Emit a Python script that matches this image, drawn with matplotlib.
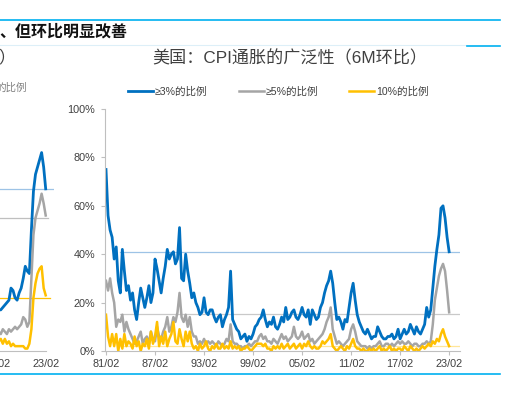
import numpy as np
import pandas as pd
import matplotlib
matplotlib.use("Agg")
import matplotlib.pyplot as plt
from matplotlib.lines import Line2D

plt.rcParams['font.family'] = ['Liberation Sans', 'Noto Sans CJK SC', 'DejaVu Sans']

# ---- main chart data: quarterly (Feb/May/Aug/Nov), 1981/02 - 2023/02 ----
dates = pd.date_range("1981-02-01", "2023-02-01", freq="3MS")

ge3 = [75, 56, 50, 47,  38, 43, 29, 24,  42, 33, 25, 27,  21, 24, 17, 13,   # 81-84
       20, 26, 22, 18,  22, 27, 20, 24,  38, 34, 29, 24,  30, 35, 42, 38,   # 85-88
       40, 41, 36, 38,  51, 30, 29, 40,  33, 28, 22, 24,  20, 18, 15, 16,   # 89-92
       22, 16, 15, 17,  17, 14, 12, 14,  15, 10, 13, 15,  18, 33, 13, 11,   # 93-96
       9, 8, 5, 6,      7, 4, 6, 5,      7, 10, 11, 13,   14, 17, 13, 10,   # 97-00
       12, 11, 14, 10,  9, 11, 14, 12,   18, 13, 14, 16,  17, 14, 13, 15,   # 01-04
       18, 15, 14, 17,  11, 17, 15, 13,  14, 18, 20, 24,  27, 29, 33, 28,   # 05-08
       20, 13, 14, 12,  9, 13, 12, 18,   24, 28, 21, 15,  12, 10, 8, 7,     # 09-12
       9, 7, 5, 6,      6, 10, 8, 6,     5, 5, 6, 6,      7, 5, 6, 9,       # 13-16
       5, 7, 9, 7,      8, 11, 9, 7,     10, 8, 7, 9,     11, 18, 14, 17,   # 17-20
       26, 35, 42, 48,  59, 60, 55, 47,  41]                                # 21-23

ge5 = [29, 25, 30, 24,  20, 10, 13, 12,  15, 8, 12, 9,    7, 5, 3, 4,
       6, 8, 3, 5,      6, 3, 8, 5,      4, 10, 6, 5,     8, 10, 14, 8,
       10, 14, 12, 16,  24, 14, 12, 15,  10, 14, 8, 6,    6, 3, 4, 3,
       5, 3, 4, 3,      4, 3, 2, 4,      3, 2, 3, 5,      4, 11, 4, 3,
       3, 2, 2, 1,      2, 2, 3, 2,      3, 4, 4, 6,      7, 5, 6, 4,
       4, 3, 5, 4,      3, 5, 7, 5,      6, 4, 5, 6,      10, 6, 5, 6,
       8, 5, 6, 7,      4, 5, 3, 4,      5, 6, 7, 9,      12, 14, 18, 9,
       6, 3, 4, 3,      2, 3, 4, 5,      9, 11, 8, 4,     3, 2, 2, 2,
       1, 2, 1, 2,      2, 3, 4, 2,      2, 3, 3, 2,      3, 2, 3, 4,
       3, 4, 3, 3,      4, 3, 2, 3,      3, 2, 2, 3,      3, 4, 3, 4,
       11, 21, 26, 31,  34, 36, 33, 25,  16]

ge10 = [15, 6, 2, 7,    2, 7, 0, 5,      1, 7, 2, 4,      3, 1, 6, 2,
        4, 0, 3, 2,     5, 1, 8, 3,      6, 12, 2, 6,     3, 8, 2, 5,
        7, 12, 4, 3,    9, 5, 2, 8,      4, 8, 3, 1,      2, 0, 3, 1,
        2, 4, 1, 0,     2, 1, 3, 1,      1, 3, 1, 2,      1, 4, 1, 2,
        1, 2, 0, 1,     1, 2, 1, 0,      1, 2, 3, 3,      3, 2, 3, 1,
        1, 0, 2, 1,     2, 1, 3, 1,      2, 3, 1, 2,      3, 1, 2, 3,
        1, 3, 2, 4,     2, 1, 2, 1,      1, 2, 4, 3,      4, 5, 7, 2,
        1, 0, 1, 2,     1, 0, 2, 1,      3, 5, 2, 1,      1, 0, 1, 0,
        0, 1, 0, 1,     0, 1, 2, 0,      1, 0, 1, 2,      0, 1, 0, 1,
        1, 0, 2, 1,     0, 2, 1, 0,      1, 0, 1, 2,      1, 2, 3, 2,
        4, 3, 5, 4,     7, 9, 6, 4,      2]

ref_levels = [41, 15.3, 2]   # horizontal reference lines (blue, gray, yellow)

x_labels = ['81/02', '87/02', '93/02', '99/02', '05/02', '11/02', '17/02', '23/02']
y_ticks = [0, 20, 40, 60, 80, 100]

# ---- left (cut off) chart data: quarterly 2017/05 - 2023/02 ----
dates_l = pd.date_range("2017-05-01", "2023-02-01", freq="3MS")
l_ge3 = [17, 17, 18,  19, 20, 21, 26,  25, 22, 21, 24,  26, 30, 35, 33,
         32, 50, 66, 73,  76, 79, 82, 76,  67]
l_ge5 = [8, 7, 9,  8, 7, 9, 8,  9, 10, 9, 10,  11, 14, 13, 10,
         12, 30, 48, 55,  58, 61, 65, 61,  56]
l_ge10 = [4, 5, 3,  5, 3, 4, 2,  3, 2, 2, 2,  2, 2, 1, 1,
          3, 9, 22, 28,  32, 34, 35, 26,  23]
l_ref = [67, 55, 22]
l_labels = ['11/02', '17/02', '23/02']

BLUE, GRAY, YELLOW = '#0070C0', '#A5A5A5', '#FFC000'
REF_COLORS = ['#9DC3E6', '#C9C9C9', '#FFE699']
TXT = '#404040'


def to_year(d):
    return np.asarray(d.year + (d.month - 1) / 12.0)


def lbl_year(s):
    yy = int(s[:2])
    return (1900 if yy > 50 else 2000) + yy + (int(s[3:]) - 1) / 12.0


W, H = 506, 394
fig = plt.figure(figsize=(W / 100, H / 100), dpi=100)

# ---- main chart ----
ax = fig.add_axes([105 / W, (H - 351) / H, 355 / W, 242 / H])
xm = to_year(dates)
l1, = ax.plot(xm, ge3, color=BLUE, lw=2.0, solid_joinstyle='round')
l2, = ax.plot(xm, ge5, color=GRAY, lw=1.8, solid_joinstyle='round')
l3, = ax.plot(xm, ge10, color=YELLOW, lw=1.8, solid_joinstyle='round')
for lev, c in zip(ref_levels, REF_COLORS):
    ax.axhline(lev, xmin=15 / 355, xmax=1, color=c, lw=0.9, zorder=1)

x0 = lbl_year(x_labels[0]) - 1 / 8.17
ax.set_xlim(x0, x0 + 355 / 8.17)
ax.set_ylim(0, 100)
ax.set_xticks([lbl_year(s) for s in x_labels])
ax.set_xticklabels(x_labels)
ax.set_yticks(y_ticks)
ax.set_yticklabels([f'{v}%' for v in y_ticks])
for s in ['top', 'right']:
    ax.spines[s].set_visible(False)
for s in ['left', 'bottom']:
    ax.spines[s].set_color('#BFBFBF')
    ax.spines[s].set_linewidth(0.8)
ax.tick_params(axis='both', length=3, width=0.8, color='#BFBFBF',
               labelsize=7.8, labelcolor=TXT)
ax.tick_params(axis='y', pad=4)
ax.tick_params(axis='x', pad=3)

fig.text(290 / W, 1 - 58 / H, '美国：CPI通胀的广泛性（6M环比）', ha='center', va='center',
         fontsize=12.3, color=TXT)
fig.legend([l1, l2, l3], ['≥3%的比例', '≥5%的比例', '10%的比例'],
           loc='center left', bbox_to_anchor=(128 / W, 1 - 92 / H), ncol=3,
           frameon=False, fontsize=7.6, handlelength=2.4, handletextpad=0.15,
           columnspacing=2.95, borderpad=0, borderaxespad=0, labelcolor=TXT)

# ---- left chart, mostly outside the picture ----
axl = fig.add_axes([-60 / W, (H - 351) / H, 114 / W, 242 / H])
xl = to_year(dates_l)
axl.plot(xl, l_ge3, color=BLUE, lw=2.0)
axl.plot(xl, l_ge5, color=GRAY, lw=1.8)
axl.plot(xl, l_ge10, color=YELLOW, lw=1.8)
for lev, c, xe in zip(l_ref, ['#9DC3E6', '#BFBFBF', '#FFC000'], [113, 108, 110]):
    axl.axhline(lev, xmin=0, xmax=xe / 114, color=c, lw=0.9, zorder=1)
xl0 = lbl_year('23/02') - 105.7 / 8.17
axl.set_xlim(xl0, xl0 + 114 / 8.17)
axl.set_ylim(0, 100)
axl.set_xticks([lbl_year(s) for s in l_labels])
axl.set_xticklabels(l_labels)
axl.set_yticks([])
for s in ['top', 'right', 'left']:
    axl.spines[s].set_visible(False)
axl.spines['bottom'].set_color('#BFBFBF')
axl.spines['bottom'].set_linewidth(0.8)
axl.spines['bottom'].set_bounds(xl0, xl0 + 106 / 8.17)
axl.tick_params(axis='x', length=0, labelsize=7.8, labelcolor=TXT, pad=6)
axl.patch.set_visible(False)

# ---- page decorations ----
fig.text(-1 / W, 1 - 32 / H, '、但环比明显改善', ha='left', va='center',
         fontsize=11.5, fontweight='bold', style='italic', color='#111111')
fig.text(-2 / W, 1 - 57 / H, '）', ha='left', va='center', fontsize=12, color=TXT)
fig.text(27 / W, 1 - 88 / H, '的比例', ha='right', va='center', fontsize=7.6, color='#808080')
fig.add_artist(Line2D([0, 500 / W], [1 - 20 / H] * 2, color='#00B0F0', lw=1.2))
fig.add_artist(Line2D([0, 466 / W], [1 - 45 / H] * 2, color='#DDEFF8', lw=0.8))
fig.add_artist(Line2D([467 / W, 500 / W], [1 - 46 / H] * 2, color='#00B0F0', lw=1.2))
fig.add_artist(Line2D([0, 500 / W], [1 - 374 / H] * 2, color='#00B0F0', lw=1.2))

fig.savefig('out.png', dpi=100)
